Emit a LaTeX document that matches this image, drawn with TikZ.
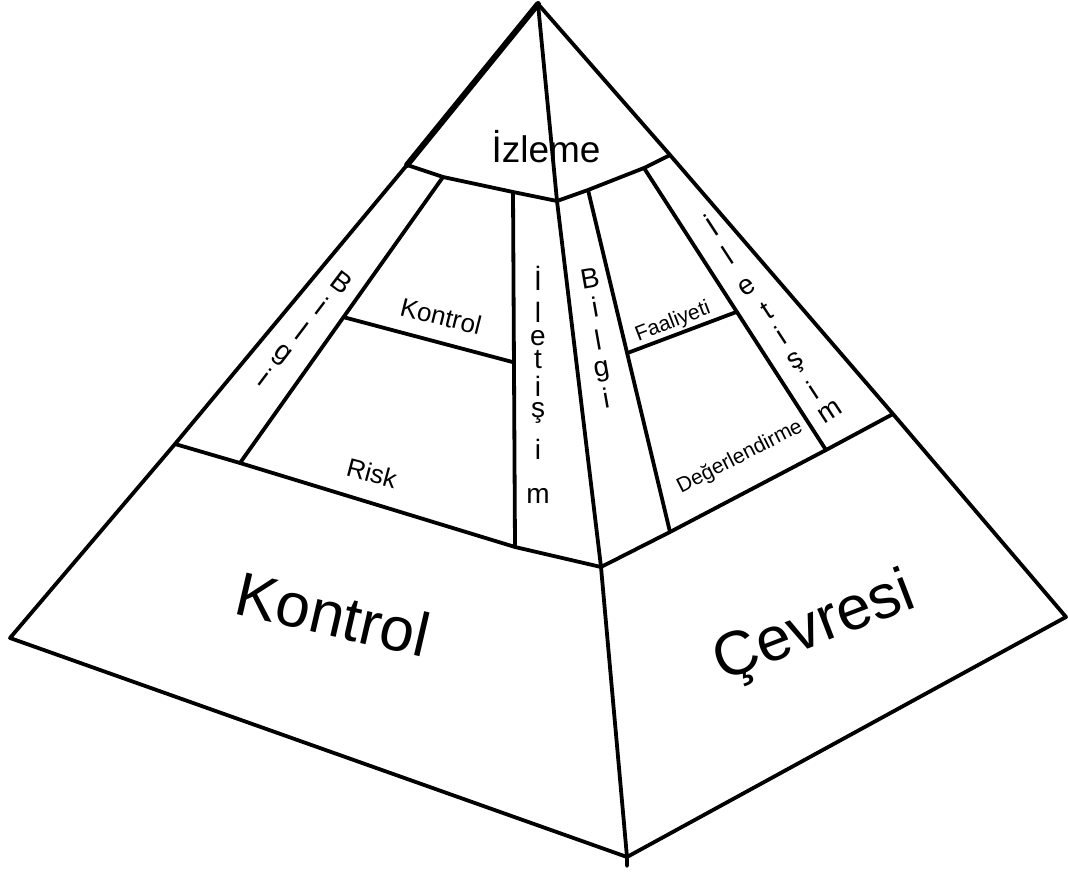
\documentclass[tikz,border=0pt]{standalone}
\usepackage{fontspec}
\setmainfont{Liberation Sans}
\usetikzlibrary{calc}
\tikzset{
  edge/.style={line width=3.8pt, line cap=round, line join=round},
  thickedge/.style={line width=6pt, line cap=round},
  lbl/.style={inner sep=0pt, outer sep=0pt, text=black},
  huge/.style={lbl, font=\fontsize{62}{66}\selectfont},
  big/.style={lbl, font=\fontsize{37}{40}\selectfont},
  mid/.style={lbl, font=\fontsize{26}{28}\selectfont},
  small/.style={lbl, font=\fontsize{21}{23}\selectfont},
  letter/.style={lbl, font=\fontsize{28}{30}\selectfont},
}
\begin{document}
\begin{tikzpicture}[x=1pt,y=-1pt]
\useasboundingbox (0,0) rectangle (1068,874);
% main vertices
\coordinate (A) at (538,4);
\coordinate (L) at (10,638);
\coordinate (F) at (627,857);
\coordinate (Fx) at (627,866);
\coordinate (R) at (1066,617);
% front edge points
\coordinate (C1) at (557,201);
\coordinate (C2) at (601,567);
% left edge points
\coordinate (L1) at (407,165);
\coordinate (L2) at (175,444);
% right edge points
\coordinate (R1) at (670,155);
\coordinate (R2) at (893,414);
% top band bottom points
\coordinate (T1) at (443,177);
\coordinate (T2) at (513,192);
\coordinate (T3) at (588,190);
\coordinate (T4) at (644,168);
% main band top points
\coordinate (B1) at (240,463);
\coordinate (B2) at (515,547);
\coordinate (B3) at (670,532);
\coordinate (B4) at (826,450);

% outer pyramid
\draw[thickedge] (A) -- (L1);
\draw[edge] (L1) -- (L2) -- (L) -- (F) -- (R) -- (R2) -- (R1) -- (A);
\draw[edge] (A) -- (C1) -- (C2) -- (F) -- (Fx);
% band lines
\draw[edge] (L1) -- (T1) -- (T2) -- (C1) -- (T3) -- (T4) -- (R1);
\draw[edge] (L2) -- (B1) -- (B2) -- (C2) -- (B3) -- (B4) -- (R2);
% left face interior
\draw[edge] (T1) -- (B1);
\draw[edge] (T2) -- (B2);
\coordinate (K1) at ($(T1)!0.49!(B1)$);
\coordinate (K2) at ($(T2)!0.48!(B2)$);
\draw[edge] (K1) -- (K2);
% right face interior
\draw[edge] (T3) -- (B3);
\draw[edge] (T4) -- (B4);
\coordinate (D1) at ($(T3)!0.477!(B3)$);
\coordinate (D2) at ($(T4)!0.51!(B4)$);
\draw[edge] (D1) -- (D2);

% labels
\node[big] (izleme) at (546,147) {İzleme};
\node[huge, rotate=-13] (kontrolbig) at (333,614) {Kontrol};
\node[huge, rotate=21] (cevresi) at (815,629) {Çevresi};
\node[mid, rotate=-14] (kontrolsm) at (441,316) {Kontrol};
\node[mid, rotate=-15] (risk) at (372,473) {Risk};
\node[small, rotate=21] (faal) at (673,322) {Faaliyeti};
\node[small, rotate=27] (deger) at (740,457) {Değerlendirme};

% left Bilgi (stacked, rotated)
\node[letter, rotate=-37] (lb1) at (342,282) {B};
\node[letter, rotate=-37] (lb2) at (322,306) {i};
\node[letter, rotate=-37] (lb3) at (302,331) {l};
\node[letter, rotate=-37] (lb4) at (281,356) {g};
\node[letter, rotate=-37] (lb5) at (265,377) {i};
% left İletişim (stacked, upright)
\node[letter] (li1) at (538,278) {İ};
\node[letter] (li2) at (538,312) {l};
\node[letter] (li3) at (538,338) {e};
\node[letter] (li4) at (538,360) {t};
\node[letter] (li5) at (538,386) {i};
\node[letter] (li6) at (538,413) {ş};
\node[letter] (li7) at (538,449) {i};
\node[letter] (li8) at (538,496) {m};
% right Bilgi
\node[letter, rotate=10] (rb1) at (590,278) {B};
\node[letter, rotate=10] (rb2) at (595,307) {i};
\node[letter, rotate=10] (rb3) at (598,340) {l};
\node[letter, rotate=10] (rb4) at (602,372) {g};
\node[letter, rotate=10] (rb5) at (606,398) {i};
% right İletişim
\node[letter, rotate=33] (ri1) at (711,225) {İ};
\node[letter, rotate=33] (ri2) at (728,255) {l};
\node[letter, rotate=33] (ri3) at (747,287) {e};
\node[letter, rotate=33] (ri4) at (767,311) {t};
\node[letter, rotate=33] (ri5) at (781,335) {i};
\node[letter, rotate=33] (ri6) at (797,363) {ş};
\node[letter, rotate=33] (ri7) at (813,390) {i};
\node[letter, rotate=33] (ri8) at (830,412) {m};
\end{tikzpicture}
\end{document}
